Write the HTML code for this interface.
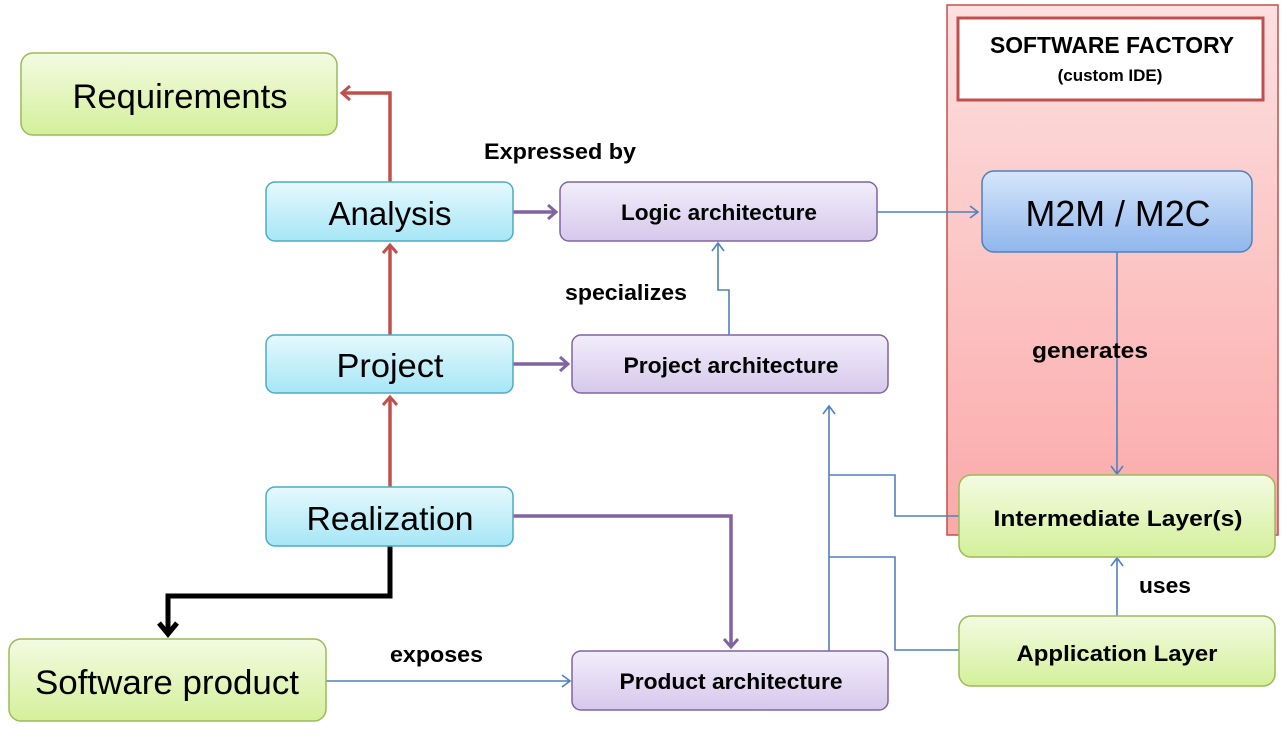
<!DOCTYPE html>
<html><head><style>
body{margin:0;background:#fff;}
svg text{font-family:"Liberation Sans",sans-serif;fill:#000;}
</style></head><body>
<svg width="1284" height="733" viewBox="0 0 1284 733" xmlns="http://www.w3.org/2000/svg">
<defs>
<linearGradient id="g" x1="0" y1="0" x2="0" y2="1"><stop offset="0" stop-color="#f4fbe2"/><stop offset="1" stop-color="#d3f09a"/></linearGradient>
<linearGradient id="c" x1="0" y1="0" x2="0" y2="1"><stop offset="0" stop-color="#e6f9fd"/><stop offset="1" stop-color="#a6e6f6"/></linearGradient>
<linearGradient id="p" x1="0" y1="0" x2="0" y2="1"><stop offset="0" stop-color="#f2eefa"/><stop offset="1" stop-color="#d6c8ec"/></linearGradient>
<linearGradient id="b" x1="0" y1="0" x2="0" y2="1"><stop offset="0" stop-color="#d6e6fb"/><stop offset="1" stop-color="#8fb6ec"/></linearGradient>
<linearGradient id="r" x1="0" y1="0" x2="0" y2="1"><stop offset="0" stop-color="#fde0e0"/><stop offset="1" stop-color="#fba9a9"/></linearGradient>
</defs>
<rect x="947" y="5" width="331" height="530" fill="url(#r)" stroke="#c0504d" stroke-width="1.5"/>
<rect x="958" y="18" width="305" height="82" fill="#fff" stroke="#c0504d" stroke-width="3"/>
<text x="1112" y="53" font-size="23" font-weight="bold" text-anchor="middle" textLength="244" lengthAdjust="spacingAndGlyphs">SOFTWARE FACTORY</text>
<text x="1110" y="81" font-size="17" font-weight="bold" text-anchor="middle">(custom IDE)</text>

<g fill="none" stroke-width="3.5">
<path d="M390 182V93H342" stroke="#c0504d"/><path d="M350 86l-8 7 8 7" stroke="#c0504d" stroke-width="3"/>
<path d="M390 335V245" stroke="#c0504d"/><path d="M383 253l7-8 7 8" stroke="#c0504d" stroke-width="3"/>
<path d="M390 487V397" stroke="#c0504d"/><path d="M383 405l7-8 7 8" stroke="#c0504d" stroke-width="3"/>
<path d="M513 212H556" stroke="#8064a2"/><path d="M548 205l8 7-8 7" stroke="#8064a2" stroke-width="3"/>
<path d="M513 364H568" stroke="#8064a2"/><path d="M560 357l8 7-8 7" stroke="#8064a2" stroke-width="3"/>
<path d="M513 516H731V647" stroke="#8064a2"/><path d="M724 639l7 8 7-8" stroke="#8064a2" stroke-width="3"/>
<path d="M390 546V596H168V632" stroke="#000" stroke-width="5"/><path d="M159 623l9 11 9-11" stroke="#000" stroke-width="5"/>
</g>
<g fill="none" stroke="#4f81bd" stroke-width="1.6">
<path d="M877 212H978M970 206l8 6-8 6"/>
<path d="M729 335V290H718V243M712 251l6-8 6 8"/>
<path d="M1117 252V474M1111 466l6 8 6-8"/>
<path d="M829 651V406M823 414l6-8 6 8"/>
<path d="M829 475H895V516H959"/>
<path d="M829 557H895V650H959"/>
<path d="M1117 616V558M1111 566l6-8 6 8"/>
<path d="M326 681H570M562 675l8 6-8 6"/>
</g>

<g stroke-width="1.5">
<rect x="21" y="53" width="316" height="82" rx="12" fill="url(#g)" stroke="#9bbb59"/>
<rect x="9" y="639" width="317" height="82" rx="12" fill="url(#g)" stroke="#9bbb59"/>
<rect x="959" y="475" width="316" height="82" rx="12" fill="url(#g)" stroke="#9bbb59"/>
<rect x="959" y="616" width="316" height="70" rx="12" fill="url(#g)" stroke="#9bbb59"/>
<rect x="266" y="182" width="247" height="59" rx="9" fill="url(#c)" stroke="#4bacc6"/>
<rect x="266" y="335" width="247" height="58" rx="9" fill="url(#c)" stroke="#4bacc6"/>
<rect x="266" y="487" width="247" height="59" rx="9" fill="url(#c)" stroke="#4bacc6"/>
<rect x="560" y="182" width="317" height="59" rx="9" fill="url(#p)" stroke="#8064a2"/>
<rect x="572" y="335" width="316" height="58" rx="9" fill="url(#p)" stroke="#8064a2"/>
<rect x="572" y="651" width="316" height="59" rx="9" fill="url(#p)" stroke="#8064a2"/>
<rect x="982" y="171" width="270" height="81" rx="12" fill="url(#b)" stroke="#4f81bd"/>
</g>

<g text-anchor="middle" lengthAdjust="spacingAndGlyphs">
<text x="180" y="108" font-size="34" textLength="215" lengthAdjust="spacingAndGlyphs">Requirements</text>
<text x="167" y="694" font-size="34" textLength="264" lengthAdjust="spacingAndGlyphs">Software product</text>
<text x="390" y="225" font-size="33" textLength="123" lengthAdjust="spacingAndGlyphs">Analysis</text>
<text x="390" y="377" font-size="33" textLength="107" lengthAdjust="spacingAndGlyphs">Project</text>
<text x="390" y="530" font-size="33" textLength="167" lengthAdjust="spacingAndGlyphs">Realization</text>
<text x="1118" y="226" font-size="36" textLength="185" lengthAdjust="spacingAndGlyphs">M2M / M2C</text>
</g>
<g font-size="22" font-weight="bold" text-anchor="middle">
<text x="719" y="220" textLength="196" lengthAdjust="spacingAndGlyphs">Logic architecture</text>
<text x="731" y="373" textLength="215" lengthAdjust="spacingAndGlyphs">Project architecture</text>
<text x="731" y="689" textLength="223" lengthAdjust="spacingAndGlyphs">Product architecture</text>
<text x="1118" y="526" textLength="249" lengthAdjust="spacingAndGlyphs">Intermediate Layer(s)</text>
<text x="1117" y="661" textLength="201" lengthAdjust="spacingAndGlyphs">Application Layer</text>
</g>
<g font-size="22" font-weight="bold">
<text x="484" y="159" textLength="152" lengthAdjust="spacingAndGlyphs">Expressed by</text>
<text x="565" y="300" textLength="122" lengthAdjust="spacingAndGlyphs">specializes</text>
<text x="1032" y="358" textLength="116" lengthAdjust="spacingAndGlyphs">generates</text>
<text x="1139" y="593" textLength="52" lengthAdjust="spacingAndGlyphs">uses</text>
<text x="390" y="662" textLength="93" lengthAdjust="spacingAndGlyphs">exposes</text>
</g>
</svg>
</body></html>
